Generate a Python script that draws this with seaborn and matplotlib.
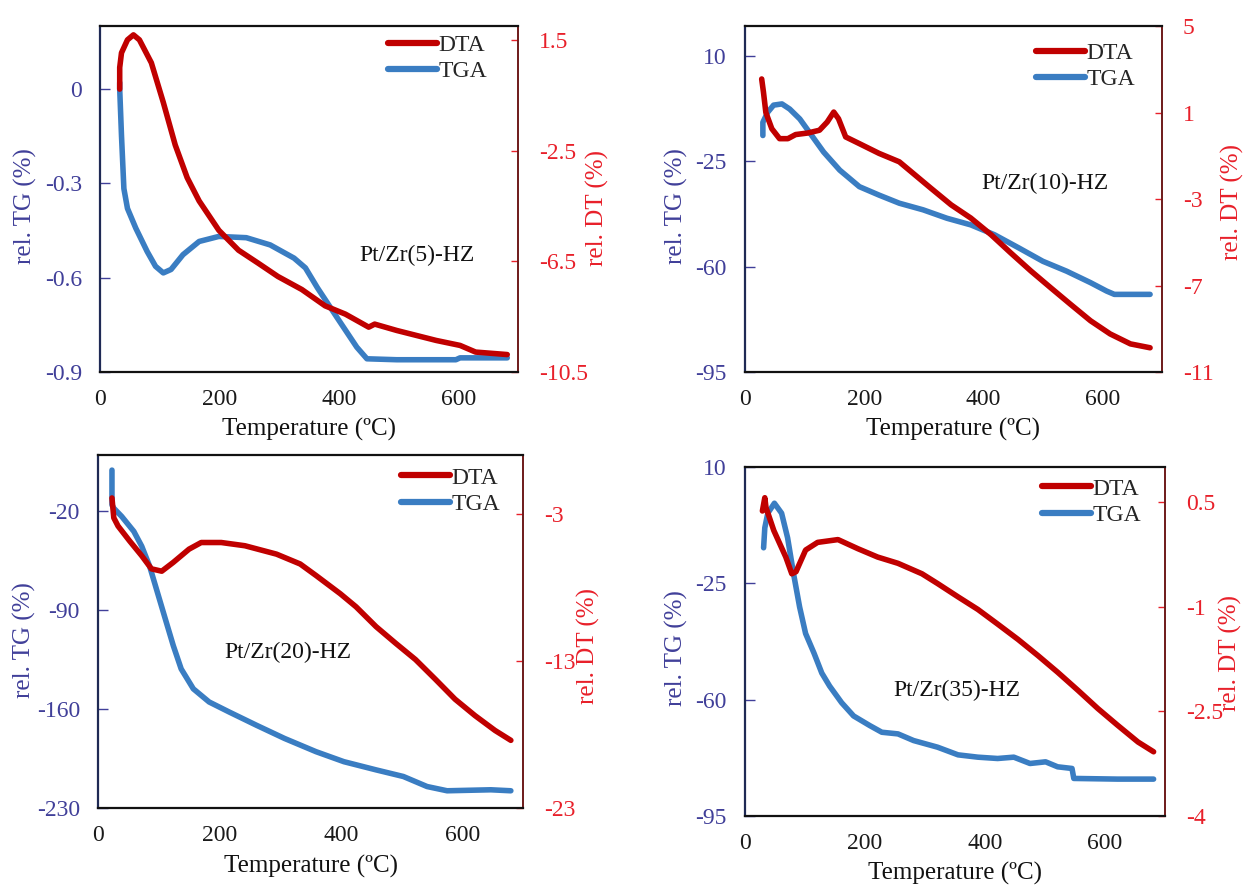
import numpy as np
import pandas as pd
import matplotlib
matplotlib.use("Agg")
import matplotlib.pyplot as plt
import seaborn as sns
from matplotlib.lines import Line2D

sns.set_theme(style="white")
plt.rcParams['font.family'] = ['Liberation Serif', 'DejaVu Serif']
plt.rcParams['axes.unicode_minus'] = False

# ---------------- data ----------------
samples = ["Pt/Zr(5)-HZ", "Pt/Zr(10)-HZ", "Pt/Zr(20)-HZ", "Pt/Zr(35)-HZ"]

# Panel 1: Pt/Zr(5)-HZ
p1_tga_T = [33, 33, 36, 40, 46, 60, 79, 93, 106, 119, 139, 166, 199, 245, 285, 325, 344, 364, 397, 430, 447, 497, 596, 603, 682]
p1_tga_y = [0.02, 0.0, -0.149, -0.317, -0.38, -0.443, -0.517, -0.564, -0.585, -0.574, -0.527, -0.485, -0.469, -0.473, -0.496, -0.538, -0.569, -0.632, -0.727, -0.821, -0.858, -0.861, -0.861, -0.855, -0.855]
p1_dta_T = [33, 33, 36, 46, 56, 66, 86, 106, 126, 146, 166, 199, 232, 265, 298, 338, 377, 411, 450, 460, 497, 563, 603, 629, 682]
p1_dta_y = [-0.28, 0.5, 1.03, 1.5, 1.68, 1.5, 0.67, -0.76, -2.3, -3.48, -4.32, -5.38, -6.1, -6.57, -7.05, -7.52, -8.11, -8.41, -8.88, -8.77, -9.0, -9.36, -9.54, -9.78, -9.87]

# Panel 2: Pt/Zr(10)-HZ
p2_tga_T = [30, 30, 38, 48, 62, 75, 92, 112, 132, 159, 192, 225, 259, 299, 339, 379, 419, 460, 500, 540, 580, 607, 620, 680]
p2_tga_y = [-16.4, -12.0, -8.7, -6.3, -5.9, -7.6, -10.9, -16.4, -21.9, -27.9, -33.4, -36.2, -38.9, -41.1, -43.9, -46.1, -49.4, -53.8, -58.2, -61.5, -65.3, -68.1, -69.2, -69.2]
p2_dta_T = [28, 31, 35, 45, 58, 72, 85, 105, 125, 138, 149, 157, 169, 192, 225, 259, 279, 312, 346, 379, 413, 446, 480, 513, 546, 580, 613, 647, 680]
p2_dta_y = [2.55, 1.94, 1.0, 0.25, -0.21, -0.21, -0.02, 0.05, 0.18, 0.56, 1.02, 0.71, -0.13, -0.44, -0.89, -1.28, -1.74, -2.5, -3.27, -3.88, -4.65, -5.49, -6.33, -7.1, -7.86, -8.63, -9.24, -9.7, -9.88]

# Panel 3: Pt/Zr(20)-HZ
p3_tga_T = [23, 23, 26, 39, 59, 72, 85, 98, 111, 124, 137, 157, 183, 216, 261, 307, 359, 405, 458, 503, 542, 575, 647, 680]
p3_tga_y = [9.3, -15.3, -17.7, -23.5, -34.1, -44.6, -58.7, -77.5, -96.3, -115, -131.5, -145.6, -154.9, -162, -171.4, -180.7, -190.1, -197.2, -203, -207.7, -214.8, -217.8, -217.1, -217.8]
p3_dta_T = [23, 26, 33, 52, 72, 88, 105, 124, 150, 170, 203, 242, 294, 333, 359, 399, 425, 458, 490, 523, 556, 588, 621, 654, 680]
p3_dta_y = [-1.92, -3.27, -3.83, -4.84, -5.85, -6.74, -6.9, -6.3, -5.4, -4.95, -4.95, -5.17, -5.74, -6.41, -7.19, -8.43, -9.32, -10.67, -11.79, -12.91, -14.26, -15.6, -16.72, -17.73, -18.4]

# Panel 4: Pt/Zr(35)-HZ
p4_tga_T = [31, 33, 38, 49, 61, 71, 81, 91, 101, 115, 128, 141, 161, 181, 208, 228, 255, 281, 321, 355, 388, 421, 448, 475, 501, 521, 545, 548, 621, 681]
p4_tga_y = [-14.3, -8.3, -3.9, -0.9, -3.9, -11.3, -22.2, -32.1, -40.1, -46, -52, -55.9, -60.9, -64.9, -67.8, -69.8, -70.3, -72.3, -74.3, -76.6, -77.3, -77.7, -77.3, -79.2, -78.7, -80.2, -80.7, -83.7, -83.9, -83.9]
p4_dta_T = [29, 33, 35, 48, 68, 78, 85, 101, 121, 155, 188, 221, 255, 295, 321, 355, 388, 421, 455, 488, 521, 555, 588, 621, 655, 681]
p4_dta_y = [0.37, 0.56, 0.42, 0.09, -0.29, -0.53, -0.50, -0.19, -0.08, -0.04, -0.17, -0.29, -0.38, -0.53, -0.67, -0.86, -1.04, -1.25, -1.47, -1.70, -1.94, -2.20, -2.46, -2.70, -2.94, -3.08]

x_ticks = [0, 200, 400, 600]
tg_ticks = [[0, -0.3, -0.6, -0.9], [10, -25, -60, -95], [-20, -90, -160, -230], [10, -25, -60, -95]]
tg_labels = [["0", "-0.3", "-0.6", "-0.9"], ["10", "-25", "-60", "-95"], ["-20", "-90", "-160", "-230"], ["10", "-25", "-60", "-95"]]
tg_lims = [(-0.9, 0.2), (-95, 20), (-230, 20), (-95, 10)]
dt_ticks = [[1.5, -2.5, -6.5, -10.5], [5, 1, -3, -7, -11], [-3, -13, -23], [0.5, -1, -2.5, -4]]
dt_labels = [["1.5", "-2.5", "-6.5", "-10.5"], ["5", "1", "-3", "-7", "-11"], ["-3", "-13", "-23"], ["0.5", "-1", "-2.5", "-4"]]
dt_lims = [(-10.5, 2.0), (-11, 5), (-23, 1), (-4, 1)]

tga_T = [p1_tga_T, p2_tga_T, p3_tga_T, p4_tga_T]
tga_y = [p1_tga_y, p2_tga_y, p3_tga_y, p4_tga_y]
dta_T = [p1_dta_T, p2_dta_T, p3_dta_T, p4_dta_T]
dta_y = [p1_dta_y, p2_dta_y, p3_dta_y, p4_dta_y]

# ---------------- style / layout ----------------
W, H = 1246, 886
fig = plt.figure(figsize=(W / 100, H / 100), dpi=100)

boxes = [(100, 26, 518, 372), (745, 26, 1162, 372), (98, 455, 523, 808), (745, 467, 1165, 816)]
label_pos = [(0.758, 0.338), (0.72, 0.546), (0.447, 0.442), (0.505, 0.361)]
legend_anchor = [(0.926, 0.906), (0.935, 0.884), (0.946, 0.898), (0.943, 0.900)]
left_lab = [(-0.179, 0.48), (-0.165, 0.48), (-0.174, 0.475), (-0.164, 0.48)]
right_lab = [(1.189, 0.474), (1.170, 0.49), (1.153, 0.46), (1.155, 0.467)]

c_dta = "#c00000"
c_tga = "#3a7dc2"
c_left = "#403f99"
c_right = "#e8202a"
fs_tick = 17
fs_lab = 18

for i in range(4):
    l, t, r, b = boxes[i]
    ax = fig.add_axes([l / W, 1 - b / H, (r - l) / W, (b - t) / H])
    ax2 = ax.twinx()

    df_t = pd.DataFrame({"T": tga_T[i], "v": tga_y[i]})
    df_d = pd.DataFrame({"T": dta_T[i], "v": dta_y[i]})
    sns.lineplot(data=df_t, x="T", y="v", ax=ax, color=c_tga, lw=4, sort=False, estimator=None)
    sns.lineplot(data=df_d, x="T", y="v", ax=ax2, color=c_dta, lw=4, sort=False, estimator=None)

    ax.set_xlim(0, 700)
    ax.set_xticks(x_ticks)
    ax.set_xticklabels([str(v) for v in x_ticks])
    ax.set_ylim(*tg_lims[i])
    ax.set_yticks(tg_ticks[i])
    ax.set_yticklabels(tg_labels[i])
    ax2.set_ylim(*dt_lims[i])
    ax2.set_yticks(dt_ticks[i])
    ax2.set_yticklabels(dt_labels[i])

    ax.set_xlabel("Temperature (ºC)", fontsize=fs_lab, color="#111111")
    ax.set_ylabel("rel. TG (%)", fontsize=fs_lab, color=c_left)
    ax2.set_ylabel("rel. DT (%)", fontsize=fs_lab, color=c_right)
    ax.xaxis.set_label_coords(0.5, -0.165)
    ax.xaxis.label.set_va("center")
    ax.yaxis.set_label_coords(*left_lab[i])
    ax.yaxis.label.set_va("center")
    ax2.yaxis.set_label_coords(*right_lab[i])
    ax2.yaxis.label.set_va("center")

    ax.tick_params(axis="x", labelsize=fs_tick, colors="#1a1a1a", direction="in", length=6, width=1, pad=12)
    ax.tick_params(axis="y", labelsize=fs_tick, colors=c_left, direction="in", length=7, width=1, pad=13)
    ax2.tick_params(axis="y", labelsize=fs_tick, colors=c_right, direction="in", length=5, width=1, pad=15)
    for tl in ax.get_xticklines():
        tl.set_color("#222222")

    for sp in ["top", "bottom"]:
        ax2.spines[sp].set_color("#111111")
        ax2.spines[sp].set_linewidth(1.6)
    ax2.spines["left"].set_color("#1f2a55")
    ax2.spines["left"].set_linewidth(1.6)
    ax2.spines["right"].set_color("#6e1a1a")
    ax2.spines["right"].set_linewidth(1.4)
    for sp in ax.spines.values():
        sp.set_visible(False)

    ax.text(label_pos[i][0], label_pos[i][1], samples[i], transform=ax.transAxes,
            ha="center", va="center", fontsize=fs_tick, color="#111111")

    handles = [Line2D([], [], color=c_dta, lw=4.5), Line2D([], [], color=c_tga, lw=4.5)]
    ax2.legend(handles, ["DTA", "TGA"], loc="center right", bbox_to_anchor=legend_anchor[i],
               frameon=False, fontsize=fs_tick, handlelength=2.1, handletextpad=0.05,
               labelspacing=0.2, borderpad=0, borderaxespad=0)

fig.savefig("out.png", dpi=100)
